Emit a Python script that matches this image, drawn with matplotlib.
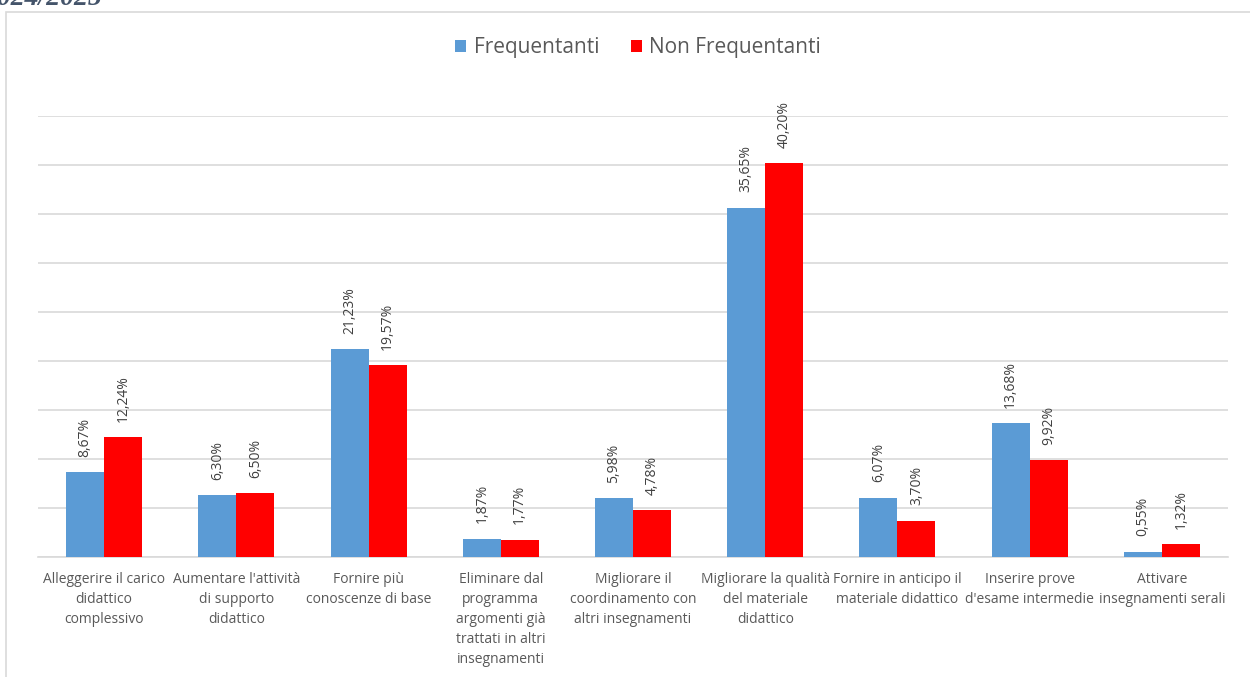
import matplotlib.pyplot as plt
import numpy as np
from matplotlib.patches import Rectangle

# etichette delle categorie (come nel grafico)
categorie = [
    "Alleggerire il carico\ndidattico\ncomplessivo",
    "Aumentare l'attività\ndi supporto\ndidattico",
    "Fornire più\nconoscenze di base",
    "Eliminare dal\nprogramma\nargomenti già\ntrattati in altri\ninsegnamenti",
    "Migliorare il\ncoordinamento con\naltri insegnamenti",
    "Migliorare la qualità\ndel materiale\ndidattico",
    "Fornire in anticipo il\nmateriale didattico",
    "Inserire prove\nd'esame intermedie",
    "Attivare\ninsegnamenti serali",
]
frequentanti = [8.67, 6.30, 21.23, 1.87, 5.98, 35.65, 6.07, 13.68, 0.55]
non_frequentanti = [12.24, 6.50, 19.57, 1.77, 4.78, 40.20, 3.70, 9.92, 1.32]
serie = ["Frequentanti", "Non Frequentanti"]
colori = ["#5B9BD5", "#FF0000"]

W, H = 1250, 677
fig = plt.figure(figsize=(W / 100, H / 100), dpi=100)
plt.rcParams['font.family'] = ['Open Sans', 'DejaVu Sans']

# bordo del riquadro del grafico (esce dall'immagine a destra e in basso)
fig.patches.append(Rectangle((5.5 / W, -0.1), 1.2, 1 - 11.5 / H + 0.1,
                             transform=fig.transFigure, fill=False,
                             edgecolor="#D9D9D9", linewidth=1.2, clip_on=False))

# titolo tagliato in alto a sinistra
fig.text(-17 / W, 1 - 5 / H, "2024/2025", fontsize=20, fontweight='bold',
         fontstyle='italic', family='Liberation Serif', color="#44546A",
         va='baseline', ha='left')

ax = fig.add_axes([38 / W, 120 / H, 1190 / W, 441 / H])
x = np.arange(len(categorie))
larg = 0.287

b1 = ax.bar(x - larg / 2, frequentanti, larg, color=colori[0], label=serie[0], zorder=3)
b2 = ax.bar(x + larg / 2, non_frequentanti, larg, color=colori[1], label=serie[1], zorder=3)

for barre, valori in [(b1, frequentanti), (b2, non_frequentanti)]:
    for b, v in zip(barre, valori):
        ax.annotate(("%.2f%%" % v).replace('.', ','),
                    (b.get_x() + b.get_width() / 2, v),
                    xytext=(0, 11), textcoords='offset points',
                    rotation=90, ha='center', va='bottom',
                    fontsize=10, color="#404040")

ax.set_xlim(-0.5, len(categorie) - 0.5)
ax.set_ylim(0, 45)
ax.set_yticks(np.arange(0, 46, 5))
ax.yaxis.grid(True, color="#D9D9D9", linewidth=1.2, zorder=0)
ax.tick_params(axis='y', left=False, labelleft=False)
ax.tick_params(axis='x', length=0, pad=11)
ax.set_xticks(x)
ax.set_xticklabels(categorie, fontsize=10, color="#595959", linespacing=1.45, va='top')
for s in ['top', 'right', 'left']:
    ax.spines[s].set_visible(False)
ax.spines['bottom'].set_color("#D9D9D9")
ax.spines['bottom'].set_linewidth(1.2)

fig.legend(loc='center', bbox_to_anchor=(638 / W, 1 - 48 / H), ncol=2,
           frameon=False, fontsize=15, labelcolor="#595959",
           handlelength=0.55, handleheight=0.55, handletextpad=0.35, columnspacing=1.5)

fig.savefig("out.png", dpi=100)
